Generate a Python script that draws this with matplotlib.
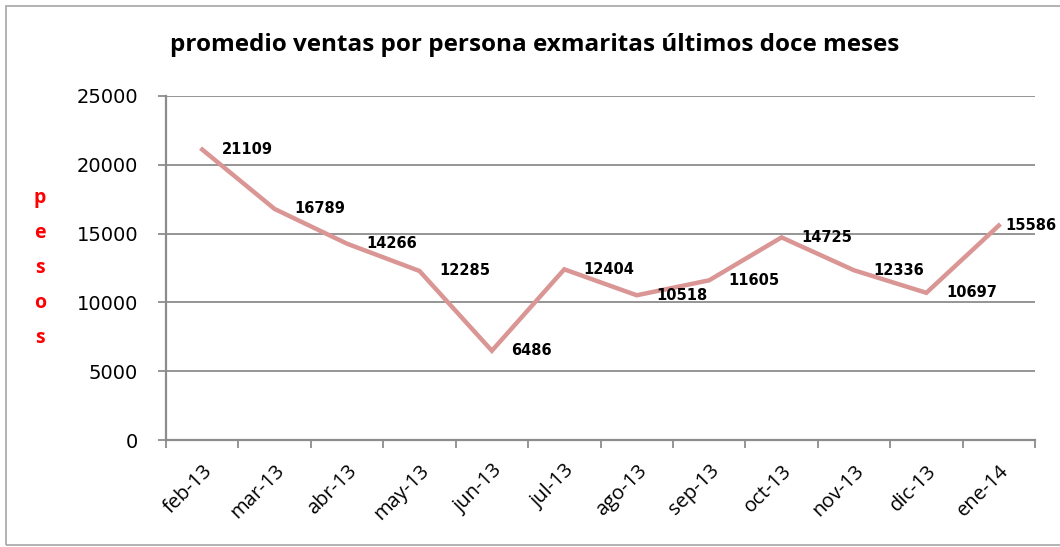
import numpy as np
import matplotlib.pyplot as plt
from matplotlib.patches import Rectangle

# DATA #
meses = ["feb-13", "mar-13", "abr-13", "may-13", "jun-13", "jul-13",
         "ago-13", "sep-13", "oct-13", "nov-13", "dic-13", "ene-14"]
ventas = [21109, 16789, 14266, 12285, 6486, 12404,
          10518, 11605, 14725, 12336, 10697, 15586]
y_ticks = [0, 5000, 10000, 15000, 20000, 25000]

titulo = "promedio ventas por persona exmaritas últimos doce meses"
etiqueta_y = "pesos"

GRIS = "#8c8c8c"
LINEA = "#d99694"

fig = plt.figure(figsize=(10.6, 5.47), dpi=100)
ax = fig.add_axes([166/1060, 1 - 440/547, (1035-166)/1060, (440-96)/547])

x = np.arange(len(meses))
ax.plot(x, ventas, color=LINEA, lw=3.2, solid_joinstyle="miter", zorder=3)

for xi, v in zip(x, ventas):
    dx = 14 if xi < len(meses) - 1 else 5
    ax.annotate(str(v), (xi, v), xytext=(dx, 0), textcoords="offset points",
                ha="left", va="center", fontsize=10.5, fontweight="bold",
                color="black", zorder=4)

ax.set_xlim(-0.5, len(meses) - 0.5)
ax.set_ylim(0, 25000)
ax.set_yticks(y_ticks)
ax.set_yticklabels([str(t) for t in y_ticks], fontsize=14)
ax.yaxis.grid(True, color=GRIS, lw=1.3)
ax.set_axisbelow(True)

# ticks between categories, labels at category centers
ax.set_xticks(np.arange(-0.5, len(meses)), minor=False)
ax.set_xticklabels([""] * (len(meses) + 1))
ax.set_xticks(x, minor=True)
ax.set_xticklabels(meses, minor=True, rotation=45, ha="right",
                   rotation_mode="anchor", fontsize=14.5, family="Open Sans")
ax.tick_params(axis="x", which="minor", length=0, pad=15)
ax.tick_params(axis="x", which="major", length=6, width=1.3, color=GRIS)
ax.tick_params(axis="y", length=6, width=1.3, color=GRIS, pad=14)

for s in ["top", "right"]:
    ax.spines[s].set_visible(False)
for s in ["left", "bottom"]:
    ax.spines[s].set_color(GRIS)
    ax.spines[s].set_linewidth(1.6)

fig.text(535/1060, 1 - 45/547, titulo, ha="center", va="center",
         fontsize=17.5, fontweight="bold", family="Open Sans")

# y label as stacked letters
for i, letra in enumerate(etiqueta_y):
    fig.text(40/1060, 1 - (198 + i*35)/547, letra, ha="center", va="center",
             fontsize=14, fontweight="bold", color="red", family="Open Sans")

fig.patches.append(Rectangle((6/1060, 2/547), 1060/1060, 539/547,
                             transform=fig.transFigure, fill=False,
                             edgecolor="#a6a6a6", lw=1.2))

fig.savefig("out.png", dpi=100)
